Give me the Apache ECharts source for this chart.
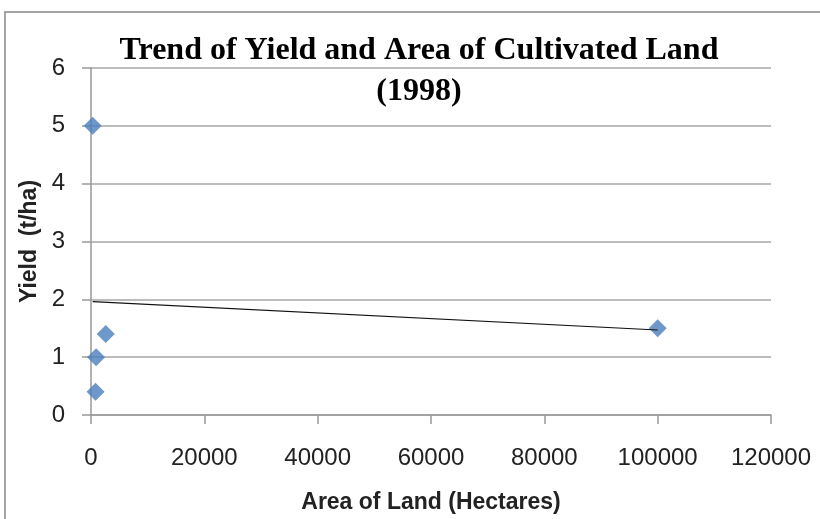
<!doctype html>
<html><head><meta charset="utf-8" />
<style>html,body,#app{margin:0;padding:0;width:820px;height:519px;background:#fff}</style>
</head><body><div id="app"></div>
<script src="https://cdn.jsdelivr.net/npm/echarts@6/dist/echarts.min.js"></script>
<script>
// points: [area in hectares, yield t/ha]
const areaHa = [300, 900, 800, 2600, 100000];
const yieldT = [5, 1, 0.4, 1.4, 1.5];
// linear trendline ends as drawn in the reference
const trendX = [300, 100000];
const trendY = [1.96, 1.47];
const xTicks = [0, 20000, 40000, 60000, 80000, 100000, 120000];
const yTicks = [0, 1, 2, 3, 4, 5, 6];
const titleLines = ['Trend of Yield and Area of Cultivated Land', '(1998)'];

const pts = areaHa.map((x, i) => [x, yieldT[i]]);
const trend = trendX.map((x, i) => [x, trendY[i]]);
const titleFont = 'bold 32px "Liberation Serif", serif';

const chart = echarts.init(document.getElementById('app'));
chart.setOption({
  backgroundColor: '#fff',
  animation: false,
  grid: { left: 91, right: 49, top: 68, bottom: 104, containLabel: false, outerBoundsMode: 'none' },
  graphic: [
    { type: 'rect', shape: { x: 5, y: 12, width: 840, height: 540 },
      style: { fill: 'none', stroke: '#888', lineWidth: 1.5 }, silent: true },
    { type: 'text', x: 419, y: 51, z: 10,
      style: { text: titleLines[0], textAlign: 'center', textVerticalAlign: 'middle', font: titleFont, fill: '#000' } },
    { type: 'text', x: 419, y: 92, z: 10,
      style: { text: titleLines[1], textAlign: 'center', textVerticalAlign: 'middle', font: titleFont, fill: '#000' } }
  ],
  xAxis: {
    type: 'value', min: xTicks[0], max: xTicks[xTicks.length - 1], interval: 20000,
    name: 'Area of Land (Hectares)', nameLocation: 'middle', nameGap: 76,
    nameTextStyle: { fontFamily: 'Liberation Sans', fontWeight: 'bold', fontSize: 23, color: '#222' },
    axisLine: { show: true, lineStyle: { color: '#999', width: 1.5 } },
    axisTick: { show: true, length: 9, lineStyle: { color: '#999', width: 1.5 } },
    axisLabel: { fontFamily: 'Liberation Sans', fontSize: 24, color: '#222', margin: 31,
      formatter: v => String(v) },
    splitLine: { show: false }
  },
  yAxis: {
    type: 'value', min: yTicks[0], max: yTicks[yTicks.length - 1], interval: 1,
    name: 'Yield  (t/ha)', nameLocation: 'middle', nameGap: 50,
    nameTextStyle: { fontFamily: 'Liberation Sans', fontWeight: 'bold', fontSize: 23, color: '#222' },
    axisLine: { show: true, lineStyle: { color: '#999', width: 1.5 } },
    axisTick: { show: true, length: 9, lineStyle: { color: '#999', width: 1.5 } },
    axisLabel: { fontFamily: 'Liberation Sans', fontSize: 24, color: '#222', margin: 26 },
    splitLine: { show: true, lineStyle: { color: '#a6a6a6', width: 1.5 } }
  },
  series: [
    { type: 'line', data: trend, symbol: 'none', silent: true, z: 3,
      lineStyle: { color: '#111', width: 1.2 } },
    { type: 'scatter', data: pts, symbol: 'diamond', symbolSize: 18, z: 2,
      itemStyle: { color: '#4a7ebb' } }
  ]
});
</script></body></html>
